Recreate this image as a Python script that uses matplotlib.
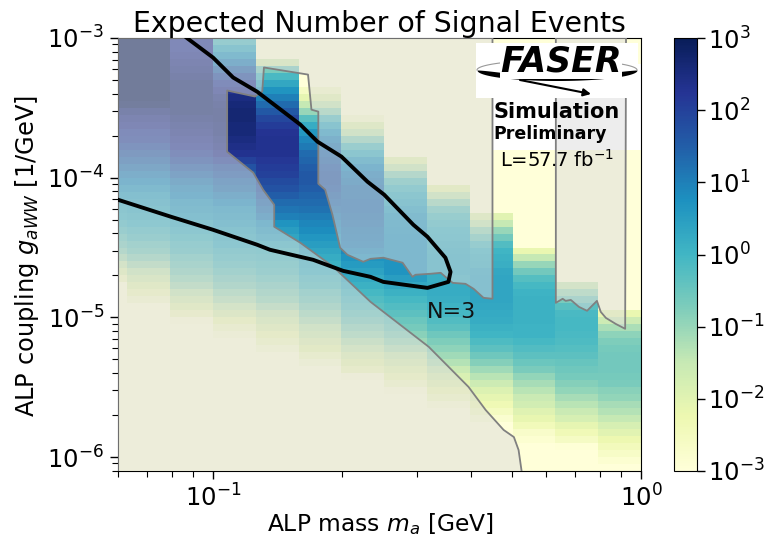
import numpy as np
import matplotlib
matplotlib.use('Agg')
import matplotlib.pyplot as plt
from matplotlib.colors import LogNorm
from matplotlib.patches import Rectangle
from matplotlib.ticker import LogLocator, NullFormatter

# log10(N) per mass bin, top row (g=1e-3) to bottom row, 0.05 decade rows
col0 = [3.3,3.3,3.3,3.3,3.3,3.3,3.3,3.3,3.3,2.9,
        2.6,2.4,2.3,2.1,2.0,1.8,1.6,1.4,1.2,1.0,
        .8,.6,.4,.2,.1,0,-.1,-.3,-.5,-.7,
        -.9,-1.2,-1.6,-2.0,-2.5,-3,-3.3,-3.3,-3.3,-3.3,
        -3.3,-3.3,-3.3,-3.3,-3.3,-3.3,-3.3,-3.3,-3.3,-3.3,
        -3.3,-3.3,-3.3,-3.3,-3.3,-3.3,-3.3,-3.3,-3.3,-3.3,
        -3.3,-3.3]
col1 = [3.3,3.3,3.3,3.3,3.3,3.3,3.3,3.3,3.3,2.9,
        2.6,2.4,2.3,2.1,2.0,1.8,1.6,1.4,1.2,1.0,
        .8,.6,.4,.3,.2,.1,0,-.15,-.3,-.5,
        -.65,-.9,-1.2,-1.5,-1.8,-2.1,-2.4,-2.7,-3,-3.3,
        -3.3,-3.3,-3.3,-3.3,-3.3,-3.3,-3.3,-3.3,-3.3,-3.3,
        -3.3,-3.3,-3.3,-3.3,-3.3,-3.3,-3.3,-3.3,-3.3,-3.3,
        -3.3,-3.3]
col2 = [2.2,2.2,2.3,2.4,2.5,2.6,2.7,2.7,2.7,2.7,
        2.7,2.6,2.5,2.4,2.3,2.2,2.0,1.8,1.5,1.3,
        1.1,.9,.8,.6,.5,.4,.2,.05,-.05,-.2,
        -.3,-.5,-.65,-.8,-1.0,-1.2,-1.5,-1.8,-2.1,-2.5,
        -2.9,-3.1,-3.3,-3.3,-3.3,-3.3,-3.3,-3.3,-3.3,-3.3,
        -3.3,-3.3,-3.3,-3.3,-3.3,-3.3,-3.3,-3.3,-3.3,-3.3,
        -3.3,-3.3]
col3 = [-.2,.2,.6,1.0,1.4,1.8,2.1,2.3,2.5,2.6,
        2.65,2.65,2.6,2.6,2.5,2.4,2.3,2.0,1.7,1.5,
        1.3,1.2,1.0,.8,.6,.5,.4,.25,.15,.05,
        -.1,-.2,-.35,-.5,-.7,-.85,-1.1,-1.3,-1.6,-1.9,
        -2.3,-2.6,-2.85,-3.1,-3.3,-3.3,-3.3,-3.3,-3.3,-3.3,
        -3.3,-3.3,-3.3,-3.3,-3.3,-3.3,-3.3,-3.3,-3.3,-3.3,
        -3.3,-3.3]
col4 = [-3.3,-3.3,-3.3,-1.8,-.7,-.1,.3,.7,1.0,1.3,
        1.6,1.9,2.1,2.25,2.3,2.3,2.3,2.2,2.1,2.0,
        1.85,1.7,1.5,1.3,1.15,1.0,.7,.5,.35,.1,
        -.05,-.15,-.25,-.35,-.5,-.7,-.85,-1.0,-1.25,-1.55,
        -1.8,-2.05,-2.3,-2.55,-2.8,-3.1,-3.3,-3.3,-3.3,-3.3,
        -3.3,-3.3,-3.3,-3.3,-3.3,-3.3,-3.3,-3.3,-3.3,-3.3,
        -3.3,-3.3]
col5 = [-3.3,-3.3,-3.3,-3.3,-3.3,-3.3,-3.3,-2.6,-2.1,-1.5,
        -1.0,-.3,.2,.6,.9,1.1,1.3,1.4,1.5,1.6,
        1.6,1.5,1.4,1.3,1.2,1.05,.9,.8,.65,.5,
        .35,.2,.1,0,-.15,-.25,-.5,-.65,-.85,-1.05,
        -1.25,-1.5,-1.7,-1.95,-2.2,-2.55,-2.8,-3.1,-3.3,-3.3,
        -3.3,-3.3,-3.3,-3.3,-3.3,-3.3,-3.3,-3.3,-3.3,-3.3,
        -3.3,-3.3]
col6 = [-3.3,-3.3,-3.3,-3.3,-3.3,-3.3,-3.3,-3.3,-3.3,-3.3,
        -3.3,-2.7,-2,-1.5,-.9,-.3,.1,.5,.8,1.0,
        1.1,1.2,1.2,1.25,1.25,1.2,1.15,1.1,1.05,1.0,
        .85,.7,.55,.4,.25,.1,-.05,-.2,-.35,-.5,
        -.7,-.9,-1.1,-1.35,-1.6,-1.9,-2.15,-2.4,-2.9,-3.3,
        -3.3,-3.3,-3.3,-3.3,-3.3,-3.3,-3.3,-3.3,-3.3,-3.3,
        -3.3,-3.3]
col7 = [-3.3,-3.3,-3.3,-3.3,-3.3,-3.3,-3.3,-3.3,-3.3,-3.3,
        -3.3,-3.3,-3.3,-3.3,-3.3,-3.3,-3.0,-2.1,-1.5,-.9,
        -.4,-.1,.1,.25,.4,.55,.6,.65,.7,.7,
        .7,.7,.7,.7,.5,.3,.1,-.05,-.2,-.35,
        -.5,-.65,-.85,-1.05,-1.3,-1.6,-1.85,-2.1,-2.35,-2.6,
        -2.9,-3.3,-3.3,-3.3,-3.3,-3.3,-3.3,-3.3,-3.3,-3.3,
        -3.3,-3.3]
col8 = [-3.3,-3.3,-3.3,-3.3,-3.3,-3.3,-3.3,-3.3,-3.3,-3.3,
        -3.3,-3.3,-3.3,-3.3,-3.3,-3.3,-3.3,-3.3,-3.3,-3.3,
        -3.3,-2.2,-1.5,-1,-.5,-.25,-.1,0,.05,.15,
        .2,.25,.25,.25,.15,.2,.2,.15,.05,-.05,
        -.2,-.35,-.55,-.75,-.9,-1.1,-1.3,-1.55,-1.85,-2.05,
        -2.3,-2.55,-2.85,-3.2,-3.3,-3.3,-3.3,-3.3,-3.3,-3.3,
        -3.3,-3.3]
col9 = [-3.3,-3.3,-3.3,-3.3,-3.3,-3.3,-3.3,-3.3,-3.3,-3.3,
        -3.3,-3.3,-3.3,-3.3,-3.3,-3.3,-3.3,-3.3,-3.3,-3.3,
        -3.3,-3.3,-3.3,-3.3,-3.3,-2.0,-1.5,-1.0,-.6,-.2,
        0,.1,.15,.3,.35,.35,.35,.35,.3,.25,
        .2,.1,0,-.15,-.35,-.55,-.8,-1.1,-1.35,-1.6,
        -1.9,-2.1,-2.3,-2.55,-2.8,-3,-3.3,-3.3,-3.3,-3.3,
        -3.3,-3.3]
col10 = [-3.3,-3.3,-3.3,-3.3,-3.3,-3.3,-3.3,-3.3,-3.3,-3.3,
         -3.3,-3.3,-3.3,-3.3,-3.3,-3.3,-3.3,-3.3,-3.3,-3.3,
         -3.3,-3.3,-3.3,-3.3,-3.3,-3.3,-3.3,-3.3,-3.3,-3.3,
         -2.2,-1.5,-1.0,-.6,-.25,-.05,.05,.1,.1,.1,
         .1,.05,.05,-.05,-.2,-.35,-.5,-.7,-.95,-1.15,
         -1.35,-1.55,-1.7,-1.95,-2.15,-2.4,-2.7,-2.85,-3,-3.3,
         -3.3,-3.3]
col11 = [-3.3,-3.3,-3.3,-3.3,-3.3,-3.3,-3.3,-3.3,-3.3,-3.3,
         -3.3,-3.3,-3.3,-3.3,-3.3,-3.3,-3.3,-3.3,-3.3,-3.3,
         -3.3,-3.3,-3.3,-3.3,-3.3,-3.3,-3.3,-3.3,-3.3,-3.3,
         -3.3,-3.3,-3.3,-3.3,-3.3,-1.6,-1.1,-.7,-.3,-.1,
         -.05,-.05,-.1,-.15,-.25,-.35,-.45,-.55,-.65,-.8,
         -.95,-1.15,-1.35,-1.55,-1.8,-2.1,-2.35,-2.6,-2.95,-3.1,
         -3.3,-3.3]
col12 = [-3.3,-3.3,-3.3,-3.3,-3.3,-3.3,-3.3,-3.3,-3.3,-3.3,
         -3.3,-3.3,-3.3,-3.3,-3.3,-3.3,-3.3,-3.3,-3.3,-3.3,
         -3.3,-3.3,-3.3,-3.3,-3.3,-3.3,-3.3,-3.3,-3.3,-3.3,
         -3.3,-3.3,-3.3,-3.3,-3.3,-3.3,-3.3,-3.3,-3.3,-2.2,
         -1.6,-1.2,-.9,-.75,-.65,-.6,-.6,-.6,-.65,-.7,
         -.85,-.95,-1.15,-1.3,-1.5,-1.8,-2.0,-2.25,-2.45,-2.65,
         -2.85,-3.05]

logm_edges = [-1.3,-1.2,-1.1,-1.0,-.9,-.8,-.7,-.6,-.5,-.4,-.3,-.2,-.1,0.0]

# N=3 contour
curve_logm = [-1.061,-1.0,-.953,-.897,-.796,-.756,-.7,-.639,-.6,-.532,-.499,-.473,-.457,-.445,
              -.45,-.499,-.602,-.632,-.696,-.766,-.867,-.897,-1.0,-1.098,-1.222]
curve_logg = [-3.0,-3.14,-3.283,-3.384,-3.62,-3.742,-3.849,-4.029,-4.122,-4.337,-4.423,-4.516,-4.573,-4.674,
              -4.746,-4.789,-4.746,-4.71,-4.667,-4.588,-4.516,-4.48,-4.373,-4.28,-4.158]

# excluded region, main part
excl_logm = [-1.222,-1.222,-.347,-.347,-.368,-.391,-.41,-.44,-.457,-.468,-.492,-.527,-.534,-.557,-.602,-.632,
             -.649,-.686,-.703,-.721,-.738,-.754,-.754,-.77,-.778,-.881,-.885,-.902,-.967,-.967,-.906,
             -.883,-.857,-.857,-.796,-.719,-.632,-.496,-.403,-.363,-.321,-.297,-.286,-.279]
excl_logg = [-6.1,-3.0,-3.0,-4.867,-4.86,-4.796,-4.76,-4.753,-4.71,-4.681,-4.688,-4.695,-4.71,-4.609,-4.573,-4.581,
             -4.602,-4.552,-4.502,-4.265,-4.086,-4.043,-3.527,-3.513,-3.262,-3.211,-3.384,-3.419,-3.376,-3.814,-3.964,
             -4.086,-4.194,-4.351,-4.466,-4.638,-4.889,-5.211,-5.498,-5.663,-5.806,-5.857,-5.95,-6.1]
# excluded region, right part
excl2_logm = [-.199,-.199,-.183,-.176,-.164,-.145,-.126,-.103,-.094,-.082,-.059,-.037,-.035]
excl2_logg = [-3.0,-4.896,-4.867,-4.882,-4.875,-4.925,-4.953,-4.882,-4.961,-5.004,-5.047,-5.082,-3.0]

W, H = 772.0, 537.0

grid = np.array([col0,col1,col2,col3,col4,col5,col6,col7,col8,col9,col10,col11,col12]).T
xedges = 10.0**np.array(logm_edges)
yedges = 10.0**(-3.0 - 0.05*np.arange(grid.shape[0]+1))

fig = plt.figure(figsize=(W/100, H/100), dpi=100)
ax = fig.add_axes([118/W, 1-471/H, 523/W, 433/H])

norm = LogNorm(vmin=1e-3, vmax=1e3)
pc = ax.pcolormesh(xedges, yedges, 10.0**grid, cmap='YlGnBu', norm=norm, zorder=1)

# white patch from the pasted label
ax.add_patch(Rectangle((0.717, 0.741), 0.283, 0.2, transform=ax.transAxes, color='w', lw=0, zorder=2))

ex_m = 10.0**np.array(excl_logm)
ex_g = 10.0**np.array(excl_logg)
ex2_m = 10.0**np.array(excl2_logm)
ex2_g = 10.0**np.array(excl2_logg)
ax.fill(ex_m, ex_g, color='gainsboro', alpha=0.5, lw=0, zorder=3)
ax.fill(ex2_m, ex2_g, color='gainsboro', alpha=0.5, lw=0, zorder=3)
ax.plot(ex_m[2:], ex_g[2:], color='gray', lw=1.3, zorder=4)
ax.plot(ex2_m, ex2_g, color='gray', lw=1.3, zorder=4)
ax.plot(10.0**np.array(curve_logm), 10.0**np.array(curve_logg), color='k', lw=2.8, zorder=5)

ax.set_xscale('log')
ax.set_yscale('log')
ax.set_xlim(10**-1.222, 1.0)
ax.set_ylim(10**-6.1, 1e-3)
ax.xaxis.set_minor_formatter(NullFormatter())
ax.yaxis.set_major_locator(LogLocator(base=10, numticks=10))
ax.yaxis.set_minor_locator(LogLocator(base=10, subs=np.arange(2, 10)*0.1, numticks=12))
ax.yaxis.set_minor_formatter(NullFormatter())
ax.tick_params(which='major', labelsize=17.5, length=6, width=1, pad=4)
ax.tick_params(which='minor', length=4, width=0.8)
ax.set_title('Expected Number of Signal Events', fontsize=20.4, pad=3)
ax.set_xlabel('ALP mass $m_a$ [GeV]', fontsize=16.8, labelpad=0)
ax.xaxis.set_label_coords(0.5025, -0.092)
ax.set_ylabel('ALP coupling $g_{aWW}$ [1/GeV]', fontsize=17.4, labelpad=0)
ax.yaxis.set_label_coords(-0.147, 0.497)

ax.text(427/W, 1-318/H, 'N=3', transform=fig.transFigure, fontsize=16, color='#111111', zorder=6)
ax.text(493/W, 1-118/H, 'Simulation', transform=fig.transFigure, fontsize=15, fontweight='bold', zorder=8)
ax.text(493/W, 1-139/H, 'Preliminary', transform=fig.transFigure, fontsize=12.5, fontweight='bold', zorder=8)
ax.text(500/W, 1-167/H, 'L=57.7 fb$^{-1}$', transform=fig.transFigure, fontsize=14, zorder=8)

cax = fig.add_axes([674/W, 1-471/H, 23/W, 433/H])
cb = fig.colorbar(pc, cax=cax)
cb.set_ticks([1e-3, 1e-2, 1e-1, 1e0, 1e1, 1e2, 1e3])
cb.ax.minorticks_off()
cb.ax.tick_params(labelsize=17.5, length=6, width=1, pad=2)
cb.outline.set_linewidth(0.8)

# logo drawn in its own pixel-sized box
logo = fig.add_axes([476/W, 1-98/H, 162/W, 55/H], zorder=9)
logo.set_xlim(476, 638)
logo.set_ylim(98, 43)
logo.axis('off')
logo.add_patch(Rectangle((476, 43), 162, 55, color='w', lw=0))
t = np.linspace(0, np.pi, 80)
logo.fill_between(557 + 80*np.cos(t), 70 + 10.5*np.sin(t), 70 + 6.5*np.sin(t)**3, color='k', lw=0)
t2 = np.linspace(np.pi, 2*np.pi, 80)
logo.plot(557 + 80*np.cos(t2), 70 + 10*np.sin(t2), color='#999999', lw=0.8)
logo.text(561, 62, 'FASER', ha='center', va='center', fontsize=25, fontweight='bold',
          fontstyle='italic', color='k', bbox=dict(fc='w', ec='none', pad=0.2))
logo.annotate('', xy=(591, 94), xytext=(520, 80),
              arrowprops=dict(arrowstyle='-|>', color='k', lw=1.5, mutation_scale=11, shrinkA=0, shrinkB=0))

fig.savefig('out.png', dpi=100)
